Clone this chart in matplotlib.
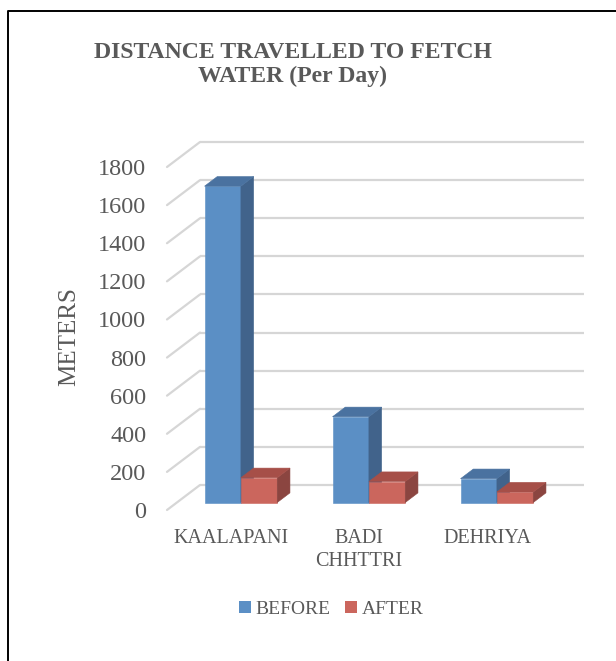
import matplotlib
matplotlib.use("Agg")
import matplotlib.pyplot as plt
from matplotlib.patches import Polygon, Patch
from matplotlib.lines import Line2D
import numpy as np

# ---------------- data ----------------
categories = ["KAALAPANI", "BADI\nCHHTTRI", "DEHRIYA"]
before = [1660, 450, 125]
after = [130, 110, 55]
series_names = ["BEFORE", "AFTER"]
y_ticks = [0, 200, 400, 600, 800, 1000, 1200, 1400, 1600, 1800]
title = "DISTANCE TRAVELLED TO FETCH\nWATER (Per Day)"
y_label = "METERS"

# ---------------- style ----------------
W, H = 616, 661
DPI = 100
TXT = "#595959"
GRID = "#D6D6D6"
front_cols = ["#5B8FC5", "#CB665D"]
side_cols = ["#41638B", "#8B4540"]
top_cols = ["#4A72A0", "#A64F48"]
SERIF = ["Liberation Serif", "DejaVu Serif"]

fig = plt.figure(figsize=(W / DPI, H / DPI), dpi=DPI)
fig.patch.set_facecolor("white")

# axes placement in pixels (front plane: x=0 at px 167, y=0 at px 510)
px_left, px_right, px_top, px_bot = 167, 590, 135, 510
ax = fig.add_axes([px_left / W, 1 - px_bot / H,
                   (px_right - px_left) / W, (px_bot - px_top) / H])
px_per_cat = 128.0
px_per_val = 343.0 / 1800.0
ax.set_xlim(0, (px_right - px_left) / px_per_cat)
ax.set_ylim(0, (px_bot - px_top) / px_per_val)

# depth of the 3D box (in data units)
DX = 33 / px_per_cat
DY = 25 / px_per_val
f0, f1 = 0.30, 0.685
ncat = len(categories)

# walls: back-wall gridlines + side-wall diagonals
yt = np.array(y_ticks, dtype=float)
ax.hlines(yt + DY, DX, ncat + DX, color=GRID, lw=1.6, zorder=1)
for v in yt:
    ax.plot([0, DX], [v, v + DY], color=GRID, lw=1.6, zorder=1,
            solid_capstyle="round", clip_on=False)

# bars
bw = 0.284
centers = np.arange(ncat) + 0.5
for s, vals in enumerate([before, after]):
    xc = centers + (s - 0.5) * bw + f0 * DX
    b = f0 * DY
    ax.bar(xc, vals, width=bw, bottom=b, color=front_cols[s],
           edgecolor=front_cols[s], lw=0.4, zorder=3 + s)
    ddx = (f1 - f0) * DX
    ddy = (f1 - f0) * DY
    for x, v in zip(xc, vals):
        xl, xr = x - bw / 2, x + bw / 2
        t = b + v
        side = Polygon([(xr, b), (xr + ddx, b + ddy), (xr + ddx, t + ddy), (xr, t)],
                       closed=True, facecolor=side_cols[s], edgecolor=side_cols[s],
                       lw=0.4, zorder=3 + s)
        top = Polygon([(xl, t), (xr, t), (xr + ddx, t + ddy), (xl + ddx, t + ddy)],
                      closed=True, facecolor=top_cols[s], edgecolor=top_cols[s],
                      lw=0.4, zorder=3 + s)
        ax.add_patch(side)
        ax.add_patch(top)

for sp in ax.spines.values():
    sp.set_visible(False)
ax.set_yticks(y_ticks)
ax.set_yticklabels([str(v) for v in y_ticks], fontsize=17.5, color=TXT,
                   family=SERIF)
ax.set_xticks(centers)
ax.set_xticklabels(categories, fontsize=14.5, color=TXT, family=SERIF,
                   linespacing=1.25)
ax.tick_params(axis="y", length=0, pad=15)
ax.tick_params(axis="x", length=0, pad=14)
ax.set_facecolor("none")

# y label
fig.text(69.3 / W, 1 - 336.5 / H, y_label, rotation=90, ha="center", va="center",
         fontsize=18, color=TXT, family=SERIF)

# title (va='baseline' anchors the last line)
fig.text(293 / W, 1 - 81.7 / H, title, ha="center", va="baseline",
         multialignment="center", fontsize=17.1, fontweight="bold", color=TXT,
         family=SERIF, linespacing=1.17)

# legend
handles = [Patch(facecolor=front_cols[0], edgecolor="none"),
           Patch(facecolor=front_cols[1], edgecolor="none")]
leg = fig.legend(handles, series_names, loc="center",
                 bbox_to_anchor=(331.5 / W, 1 - 609.5 / H), ncol=2, frameon=False,
                 prop={"family": SERIF, "size": 14}, handlelength=0.6,
                 handleheight=0.6, handletextpad=0.25, columnspacing=0.75,
                 borderpad=0, borderaxespad=0)
for t in leg.get_texts():
    t.set_color(TXT)

# outer border (top and left visible)
fig.add_artist(Line2D([8.2 / W, 8.2 / W, 1.0], [0.0, 1 - 10.8 / H, 1 - 10.8 / H],
                      transform=fig.transFigure, color="black", lw=1.4))

fig.savefig("out.png", dpi=DPI, facecolor="white")
